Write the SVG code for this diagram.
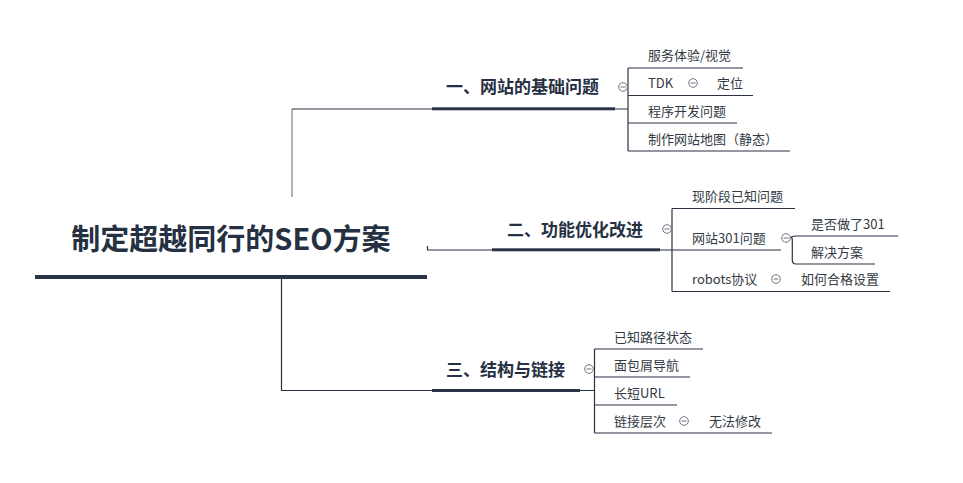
<svg xmlns="http://www.w3.org/2000/svg" width="963" height="483" viewBox="0 0 963 483">
<style>
.root{font-family:"Noto Sans CJK SC","Noto Sans",sans-serif;font-weight:bold;font-size:29px;fill:#253042}
.br{font-family:"Noto Sans CJK SC","Noto Sans",sans-serif;font-weight:bold;font-size:17px;fill:#253042}
.ch{font-family:"Noto Sans CJK SC","Noto Sans",sans-serif;font-size:13px;fill:#333a44}
.ln{stroke:#2a3140;stroke-width:1.2;fill:none}
.gr{stroke:#9a9a9a;stroke-width:1.5;fill:none}
.bar{fill:#283347}
.tg circle{fill:#fff;stroke:#6f7580;stroke-width:1}
.tg line{stroke:#6f7580;stroke-width:1}
</style>
<defs>
<g id="tog" class="tg"><circle cx="0" cy="0" r="4.3"/><line x1="-2.5" y1="0" x2="2.5" y2="0"/></g>
</defs>
<rect width="963" height="483" fill="#fff"/>
<g id="connectors">
<path class="gr" d="M292 197 V109"/>
<path class="ln" d="M292 109 H432 M615 109 H628"/>
<path class="ln" d="M427.5 246 V250 H492 M660 250 H672"/>
<path class="ln" d="M281.5 279 V390.5 H432 M580 390.5 H594"/>
<path class="ln" d="M628 68 V151"/>
<path class="ln" d="M672 208.5 V291.5"/>
<path class="ln" d="M594.5 349 V433"/>
<path class="ln" d="M790 238 Q792.3 236 796 236 M792.3 240 V260 Q792.3 264 796 264"/>
<path class="ln" d="M790 238 Q792.3 236.5 792.3 240"/>
</g>
<g id="root">
<text class="root" x="231" y="250" text-anchor="middle">制定超越同行的SEO方案</text>
<rect class="bar" x="35" y="275" width="392" height="4"/>
</g>
<g id="b1">
<text class="br" x="446" y="93">一、网站的基础问题</text>
<rect class="bar" x="432" y="107.3" width="183" height="3"/>
<use href="#tog" x="623" y="87"/>
</g>
<g id="b2">
<text class="br" x="507" y="236">二、功能优化改进</text>
<rect class="bar" x="492" y="248.3" width="168" height="3"/>
<use href="#tog" x="667" y="229"/>
</g>
<g id="b3">
<text class="br" x="446" y="376">三、结构与链接</text>
<rect class="bar" x="432" y="389" width="148" height="3"/>
<use href="#tog" x="589" y="369"/>
</g>
<g id="c1-1"><text class="ch" x="648" y="60">服务体验/视觉</text><path class="ln" d="M628 68 H743"/></g>
<g id="c1-2"><text class="ch" x="648" y="88">TDK</text><use href="#tog" x="693" y="83"/><path class="ln" d="M628 95.5 H700"/></g>
<g id="c1-2-1"><text class="ch" x="717" y="88">定位</text><path class="ln" d="M700 95.5 H753"/></g>
<g id="c1-3"><text class="ch" x="648" y="116">程序开发问题</text><path class="ln" d="M628 123 H737"/></g>
<g id="c1-4"><text class="ch" x="648" y="144">制作网站地图（静态）</text><path class="ln" d="M628 151 H790"/></g>
<g id="c2-1"><text class="ch" x="692" y="201">现阶段已知问题</text><path class="ln" d="M672 208.5 H795"/></g>
<g id="c2-2"><text class="ch" x="692" y="243">网站301问题</text><use href="#tog" x="786" y="238"/><path class="ln" d="M672 250 H781"/></g>
<g id="c2-2-1"><text class="ch" x="811" y="229">是否做了301</text><path class="ln" d="M796 236 H898"/></g>
<g id="c2-2-2"><text class="ch" x="811" y="257">解决方案</text><path class="ln" d="M796 264 H875"/></g>
<g id="c2-3"><text class="ch" x="692" y="284">robots协议</text><use href="#tog" x="776" y="279"/><path class="ln" d="M672 291.5 H785"/></g>
<g id="c2-3-1"><text class="ch" x="801" y="284">如何合格设置</text><path class="ln" d="M785 291.5 H890"/></g>
<g id="c3-1"><text class="ch" x="614" y="342">已知路径状态</text><path class="ln" d="M594.5 349 H703"/></g>
<g id="c3-2"><text class="ch" x="614" y="370">面包屑导航</text><path class="ln" d="M594.5 377 H690"/></g>
<g id="c3-3"><text class="ch" x="614" y="398">长短URL</text><path class="ln" d="M594.5 405 H677"/></g>
<g id="c3-4"><text class="ch" x="614" y="426">链接层次</text><use href="#tog" x="684" y="421"/><path class="ln" d="M594.5 433 H692"/></g>
<g id="c3-4-1"><text class="ch" x="709" y="426">无法修改</text><path class="ln" d="M692 433 H772"/></g>
</svg>
